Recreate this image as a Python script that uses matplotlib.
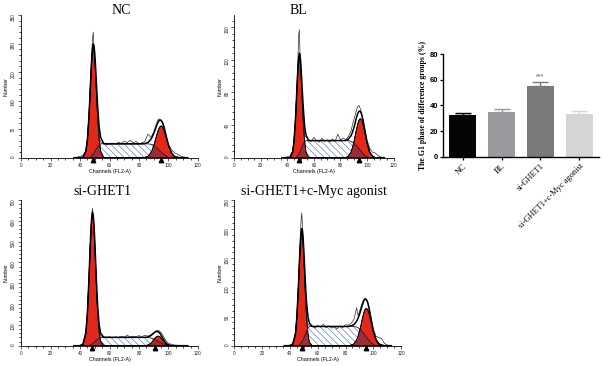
import numpy as np
import matplotlib
matplotlib.use("Agg")
import matplotlib.pyplot as plt
from matplotlib.patches import Polygon
from matplotlib.ticker import MultipleLocator
from matplotlib.transforms import offset_copy

plt.rcParams["font.family"] = ["Liberation Sans", "DejaVu Sans"]
plt.rcParams["hatch.linewidth"] = 0.45

# ---- cell cycle histograms (ModFit style), shared channel grid ----
channels = [36, 40, 42, 44, 45,
            46, 46.5, 47, 47.5, 48, 48.5, 49, 49.5, 50, 50.5,
            51, 51.5, 52, 53, 54, 56, 58, 60,
            62, 64, 66, 68, 70, 72, 74, 76, 78, 80,
            82, 84, 86, 88, 89, 90, 91, 92, 93, 94,
            95, 96, 97, 98, 99, 100, 102, 104, 106, 108, 110, 113]

# NC
nc_g1 = [0, 0, 1, 16, 44,
         97, 133, 171, 209, 241, 262, 270, 262, 241, 209,
         171, 133, 97, 44, 16, 1, 0, 0,
         0, 0, 0, 0, 0, 0, 0, 0, 0, 0,
         0, 0, 0, 0, 0, 0, 0, 0, 0, 0,
         0, 0, 0, 0, 0, 0, 0, 0, 0, 0, 0, 0]
nc_s = [0, 0, 0, 0, 0,
        0, 0, 1, 3, 5, 7, 9, 12, 15, 18,
        21, 24, 27, 31, 34, 34, 34, 34,
        34, 34, 34, 34, 34, 34, 34, 34, 34, 34,
        34, 34, 34, 33, 32, 30, 27, 24, 21, 17,
        14, 11, 8, 5, 3, 1, 0, 0, 0, 0, 0, 0]
nc_g2 = [0, 0, 0, 0, 0,
         0, 0, 0, 0, 0, 0, 0, 0, 0, 0,
         0, 0, 0, 0, 0, 0, 0, 0,
         0, 0, 0, 0, 0, 0, 0, 0, 0, 0,
         0, 1, 3, 12, 19, 30, 42, 55, 67, 75,
         78, 75, 67, 55, 42, 30, 12, 3, 1, 0, 0, 0]
nc_raw = [0, 3, 6, 18, 45,
          100, 140, 180, 220, 258, 295, 308, 270, 245, 212,
          172, 135, 100, 52, 38, 35, 31, 34,
          36, 33, 38, 35, 41, 37, 43, 36, 40, 34,
          37, 40, 58, 50, 56, 62, 75, 85, 94, 95,
          90, 83, 72, 58, 45, 33, 20, 12, 9, 4, 2, 0]
nc_marks = [49, 95]

# BL
bl_g1 = [0, 0, 0, 7, 20,
         44, 60, 77, 94, 109, 119, 122, 119, 109, 94,
         77, 60, 44, 20, 7, 0, 0, 0,
         0, 0, 0, 0, 0, 0, 0, 0, 0, 0,
         0, 0, 0, 0, 0, 0, 0, 0, 0, 0,
         0, 0, 0, 0, 0, 0, 0, 0, 0, 0, 0, 0]
bl_s = [0, 0, 0, 0, 0,
        0, 0, 1, 2, 3, 4, 6, 7, 9, 11,
        13, 15, 17, 19, 21, 21, 21, 21,
        21, 21, 21, 21, 21, 21, 21, 21, 21, 21,
        21, 21, 21, 20, 19, 18, 16, 15, 13, 11,
        9, 7, 5, 3, 2, 1, 0, 0, 0, 0, 0, 0]
bl_g2 = [0, 0, 0, 0, 0,
         0, 0, 0, 0, 0, 0, 0, 0, 0, 0,
         0, 0, 0, 0, 0, 0, 0, 0,
         0, 0, 0, 0, 0, 0, 0, 0, 0, 0,
         0, 0, 2, 7, 12, 18, 26, 34, 41, 46,
         48, 46, 41, 34, 26, 18, 7, 2, 0, 0, 0, 0]
bl_raw = [0, 1, 2, 9, 22,
          46, 63, 80, 100, 122, 150, 157, 130, 112, 96,
          80, 62, 46, 26, 26, 22, 20, 25,
          21, 19, 24, 20, 22, 19, 23, 20, 29, 22,
          24, 22, 26, 33, 40, 46, 52, 58, 63, 64,
          60, 54, 46, 38, 30, 22, 12, 7, 6, 3, 1, 0]
bl_marks = [49, 94]

# si-GHET1
si_g1 = [0, 0, 5, 63, 157,
         310, 400, 488, 563, 612, 630, 612, 563, 488, 400,
         310, 227, 157, 63, 20, 1, 0, 0,
         0, 0, 0, 0, 0, 0, 0, 0, 0, 0,
         0, 0, 0, 0, 0, 0, 0, 0, 0, 0,
         0, 0, 0, 0, 0, 0, 0, 0, 0, 0, 0, 0]
si_s = [0, 0, 0, 0, 0,
        1, 2, 4, 6, 8, 10, 13, 16, 19, 22,
        25, 28, 31, 36, 40, 40, 40, 40,
        40, 40, 40, 40, 40, 40, 40, 40, 40, 40,
        40, 40, 39, 37, 35, 32, 29, 25, 21, 17,
        13, 10, 7, 4, 2, 1, 0, 0, 0, 0, 0, 0]
si_g2 = [0, 0, 0, 0, 0,
         0, 0, 0, 0, 0, 0, 0, 0, 0, 0,
         0, 0, 0, 0, 0, 0, 0, 0,
         0, 0, 0, 0, 0, 0, 0, 0, 0, 0,
         0, 0, 3, 11, 19, 28, 37, 44, 46, 44,
         37, 28, 19, 11, 6, 3, 0, 0, 0, 0, 0, 0]
si_raw = [0, 2, 10, 65, 160,
          310, 405, 495, 575, 635, 660, 615, 560, 480, 390,
          300, 215, 150, 70, 48, 42, 40, 43,
          38, 42, 40, 44, 41, 50, 42, 45, 43, 48,
          44, 50, 46, 52, 58, 64, 68, 72, 73, 70,
          62, 52, 40, 28, 18, 12, 6, 3, 2, 1, 0, 0]
si_marks = [48, 91]

# si-GHET1+c-Myc agonist
my_g1 = [0, 0, 2, 20, 49,
         96, 124, 151, 174, 190, 195, 190, 174, 151, 124,
         96, 70, 49, 20, 6, 0, 0, 0,
         0, 0, 0, 0, 0, 0, 0, 0, 0, 0,
         0, 0, 0, 0, 0, 0, 0, 0, 0, 0,
         0, 0, 0, 0, 0, 0, 0, 0, 0, 0, 0, 0]
my_s = [0, 0, 0, 0, 0,
        0, 1, 2, 3, 5, 6, 8, 11, 13, 16,
        19, 22, 25, 30, 33, 33, 33, 33,
        33, 33, 33, 33, 33, 33, 33, 33, 33, 33,
        33, 33, 33, 32, 31, 29, 27, 24, 21, 18,
        15, 12, 9, 6, 4, 2, 0, 0, 0, 0, 0, 0]
my_g2 = [0, 0, 0, 0, 0,
         0, 0, 0, 0, 0, 0, 0, 0, 0, 0,
         0, 0, 0, 0, 0, 0, 0, 0,
         0, 0, 0, 0, 0, 0, 0, 0, 0, 0,
         0, 1, 3, 10, 16, 24, 34, 45, 55, 62,
         64, 62, 55, 45, 34, 24, 10, 3, 1, 0, 0, 0]
my_raw = [0, 1, 4, 22, 50,
          98, 126, 155, 185, 215, 228, 208, 180, 152, 125,
          95, 70, 52, 36, 35, 34, 30, 35,
          32, 37, 31, 34, 30, 33, 29, 34, 31, 36,
          35, 38, 45, 65, 52, 58, 66, 73, 79, 82,
          80, 74, 64, 52, 40, 28, 16, 14, 12, 4, 1, 0]
my_marks = [48.5, 94.5]

# ---- G1 phase bar chart ----
groups = ["NC", "BL", "si-GHET1", "si-GHET1+c-Myc agonist"]
g1_pct = [32.6, 34.7, 55.5, 33.6]
g1_err = [1.8, 2.3, 3.0, 2.3]
bar_colors = ["#050505", "#9b999d", "#7a7a7a", "#d5d5d5"]

RED = "#e4271b"
DARK = "#a82a2c"
HATCH = "#5478c4"


def histogram(ax, g1, sph, g2, raw, marks, ymax, ymajor, yminor):
    ch = np.array(channels, dtype=float)
    g1 = np.array(g1, dtype=float)
    sph = np.array(sph, dtype=float)
    g2 = np.array(g2, dtype=float)
    s_xy = np.column_stack([ch, sph])

    ax.add_patch(Polygon(s_xy, closed=True, facecolor="white", edgecolor=HATCH,
                         hatch="\\" * 5, lw=0, zorder=1))
    peaks = []
    for comp in (g1, g2):
        p = Polygon(np.column_stack([ch, comp]), closed=True, facecolor=RED,
                    edgecolor="black", lw=0.6, zorder=2)
        ax.add_patch(p)
        peaks.append(p)
    for p in peaks:
        ov = Polygon(s_xy, closed=True, facecolor=DARK, edgecolor="#6a3a5a",
                     hatch="\\" * 5, lw=0, zorder=3)
        ax.add_patch(ov)
        ov.set_clip_path(p)
    ax.plot(ch, sph, color="#1c1c30", lw=0.6, zorder=4)
    ax.plot(ch, g1, color="black", lw=0.6, zorder=4)
    ax.plot(ch, g2, color="black", lw=0.6, zorder=4)
    ax.plot(ch, raw, color="#303030", lw=0.5, zorder=5)
    ax.plot(ch, g1 + sph + g2, color="black", lw=1.1, zorder=6)

    tr = offset_copy(ax.transData, fig=ax.figure, y=-2.5, units="dots")
    ax.plot(marks, [0] * len(marks), ls="none", marker="^", ms=3.2,
            color="black", transform=tr, clip_on=False, zorder=7)

    ax.set_xlim(0, 120)
    ax.set_ylim(0, ymax)
    ax.xaxis.set_major_locator(MultipleLocator(20))
    ax.xaxis.set_minor_locator(MultipleLocator(5))
    ax.yaxis.set_major_locator(MultipleLocator(ymajor))
    ax.yaxis.set_minor_locator(MultipleLocator(yminor))
    for side in ("top", "right"):
        ax.spines[side].set_visible(False)
    for side in ("left", "bottom"):
        ax.spines[side].set_linewidth(0.6)
    ax.tick_params(which="major", direction="out", length=2.5, width=0.5,
                   labelsize=3.3, pad=1, colors="#222222")
    ax.tick_params(which="minor", direction="out", length=1.6, width=0.5)
    ax.tick_params(axis="y", labelrotation=90)
    ax.set_ylabel("Number", fontsize=3.8, labelpad=1.5)
    ax.set_xlabel("Channels (FL2-A)", fontsize=3.8, labelpad=1)


fig = plt.figure(figsize=(6.02, 3.66), dpi=100)

panels = [
    ([0.0349, 0.5691, 0.2940, 0.3899], nc_g1, nc_s, nc_g2, nc_raw, nc_marks, 350, 70, 14),
    ([0.3892, 0.5691, 0.2645, 0.3899], bl_g1, bl_s, bl_g2, bl_raw, bl_marks, 175, 40, 8),
    ([0.0349, 0.0555, 0.2940, 0.3980], si_g1, si_s, si_g2, si_raw, si_marks, 700, 100, 20),
    ([0.3892, 0.0555, 0.2771, 0.3980], my_g1, my_s, my_g2, my_raw, my_marks, 250, 50, 10),
]
for rect, g1, sph, g2, raw, marks, ymax, ymaj, ymin in panels:
    ax = fig.add_axes(rect)
    histogram(ax, g1, sph, g2, raw, marks, ymax, ymaj, ymin)

title_font = dict(family="Liberation Serif", fontsize=10, ha="center", va="baseline")
fig.text(121 / 602, 1 - 14 / 366, "NC", **title_font)
fig.text(298 / 602, 1 - 14 / 366, "BL", **title_font)
fig.text(102 / 602, 1 - 195 / 366, "si-GHET1", **title_font)
fig.text(314 / 602, 1 - 195 / 366, "si-GHET1+c-Myc agonist", **title_font)

# bar chart
bx = fig.add_axes([0.7359, 0.5719, 0.2591, 0.2798])
pos = np.arange(len(groups))
bx.bar(pos, g1_pct, width=0.7, color=bar_colors, zorder=2)
for i in range(len(groups)):
    bx.errorbar(pos[i], g1_pct[i], yerr=[[0], [g1_err[i]]], fmt="none",
                ecolor=bar_colors[i], elinewidth=1.0, capsize=5.5, capthick=1.0, zorder=1)
bx.text(pos[2], g1_pct[2] + g1_err[2] + 1.2, "***", ha="center", va="bottom",
        fontsize=5, color="#8a8a8a", fontweight="bold")
bx.set_xlim(-0.5, 3.5)
bx.set_ylim(0, 80)
bx.set_yticks([0, 20, 40, 60, 80])
bx.set_xticks(pos)
bx.set_xticklabels(groups, rotation=45, ha="right", rotation_mode="anchor",
                   family="Liberation Serif", fontsize=6)
for lab in bx.get_yticklabels():
    lab.set_fontweight("bold")
bx.tick_params(axis="y", labelsize=5.5, length=2.5, width=0.9, pad=1)
bx.tick_params(axis="x", length=2.5, width=0.9, pad=1.5)
for side in ("top", "right"):
    bx.spines[side].set_visible(False)
for side in ("left", "bottom"):
    bx.spines[side].set_linewidth(1.0)
bx.set_ylabel("The G1 phase of difference groups (%)", family="Liberation Serif",
              fontweight="bold", fontsize=5.6, labelpad=2)

fig.savefig("out.png", dpi=100)
